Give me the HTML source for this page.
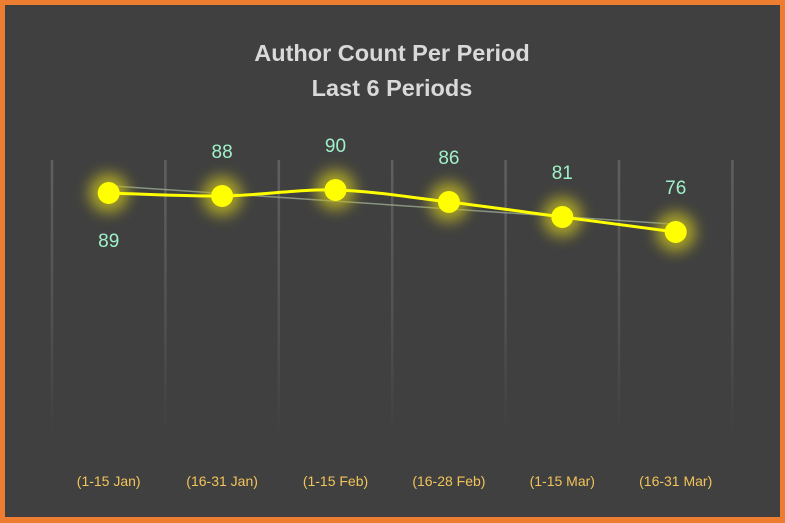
<!DOCTYPE html>
<html><head><meta charset="utf-8"><style>
html,body{margin:0;padding:0;background:#fff}
#wrap{width:785px;height:523px;box-sizing:border-box;border:5px solid #ED7D31;border-bottom-width:6px;background:#404040;position:relative;overflow:hidden}
svg{position:absolute;left:-5px;top:-5px}
</style></head><body>
<div id="wrap">
<svg id="chart" width="785" height="523">
<defs>
<linearGradient id="gl" x1="0" y1="0" x2="0" y2="1">
<stop offset="0" stop-color="#606060"/><stop offset="0.6" stop-color="#505050"/><stop offset="1" stop-color="#404040"/>
</linearGradient>
<filter id="glow" x="-1" y="-1" width="3" height="3"><feGaussianBlur stdDeviation="7"/></filter>
</defs>
<text x="392" y="61" text-anchor="middle" font-family="Liberation Sans, sans-serif" font-weight="bold" font-size="23.5" fill="#d9d9d9">Author Count Per Period</text>
<text x="392" y="96" text-anchor="middle" font-family="Liberation Sans, sans-serif" font-weight="bold" font-size="23.5" fill="#d9d9d9">Last 6 Periods</text>
<g id="grid"></g><g id="trend"></g><g id="glows"></g><g id="line"></g><g id="pts"></g><g id="labels"></g><g id="xlabels"></g>
</svg>
</div>
<script>
const categories=["(1-15 Jan)","(16-31 Jan)","(1-15 Feb)","(16-28 Feb)","(1-15 Mar)","(16-31 Mar)"];
const values=[89,88,90,86,81,76];
const labelBelow=[true,false,false,false,false,false];
const NS="http://www.w3.org/2000/svg";
const x0=52,step=113.4;
function xs(i){return x0+step*(i+0.5);}
function ys(v){return 190+(90-v)*3;}
function mk(t,a,p){const e=document.createElementNS(NS,t);for(const k in a)e.setAttribute(k,a[k]);document.getElementById(p).appendChild(e);return e;}
for(let i=0;i<=categories.length;i++){
 const g=mk('rect',{x:x0+step*i-1.25,y:160,width:2.5,height:275,fill:'url(#gl)'},'grid');
 
 
}
const n=values.length;let sx=0,sy=0,sxy=0,sxx=0;
values.forEach((v,i)=>{sx+=i;sy+=v;sxy+=i*v;sxx+=i*i;});
const b=(n*sxy-sx*sy)/(n*sxx-sx*sx),a=(sy-b*sx)/n;
const tl=mk('line',{x1:xs(0),y1:ys(a),x2:xs(n-1),y2:ys(a+b*(n-1)),stroke:'#9aa890','stroke-width':1.5,opacity:0.8},'trend');


const P=values.map((v,i)=>[xs(i),ys(v)]);
let d=`M${P[0][0]},${P[0][1]}`;
for(let i=0;i<n-1;i++){const p0=P[Math.max(0,i-1)],p1=P[i],p2=P[i+1],p3=P[Math.min(n-1,i+2)];
 d+=` C${p1[0]+(p2[0]-p0[0])/6},${p1[1]+(p2[1]-p0[1])/6} ${p2[0]-(p3[0]-p1[0])/6},${p2[1]-(p3[1]-p1[1])/6} ${p2[0]},${p2[1]}`;}
const ln=mk('path',{d:d,fill:'none',stroke:'#ffff00','stroke-width':3},'line');


values.forEach((v,i)=>{
 const gl=mk('circle',{cx:xs(i),cy:ys(v),r:20,fill:'#c0b820',opacity:0.8,filter:'url(#glow)'},'glows');
 
 
 const c=mk('circle',{cx:xs(i),cy:ys(v),r:11,fill:'#ffff00'},'pts');
 
 
 const t=mk('text',{x:xs(i),y:labelBelow[i]?ys(v)+54:ys(v)-38,'text-anchor':'middle','font-family':'Liberation Sans, sans-serif','font-size':19,fill:'#9ff0c8'},'labels');
 t.textContent=v;
 
 
 const xl=mk('text',{x:xs(i),y:486,'text-anchor':'middle','font-family':'Liberation Sans, sans-serif','font-size':14,fill:'#f2c45a'},'xlabels');
 xl.textContent=categories[i];
 
 
});
</script>
</body></html>
